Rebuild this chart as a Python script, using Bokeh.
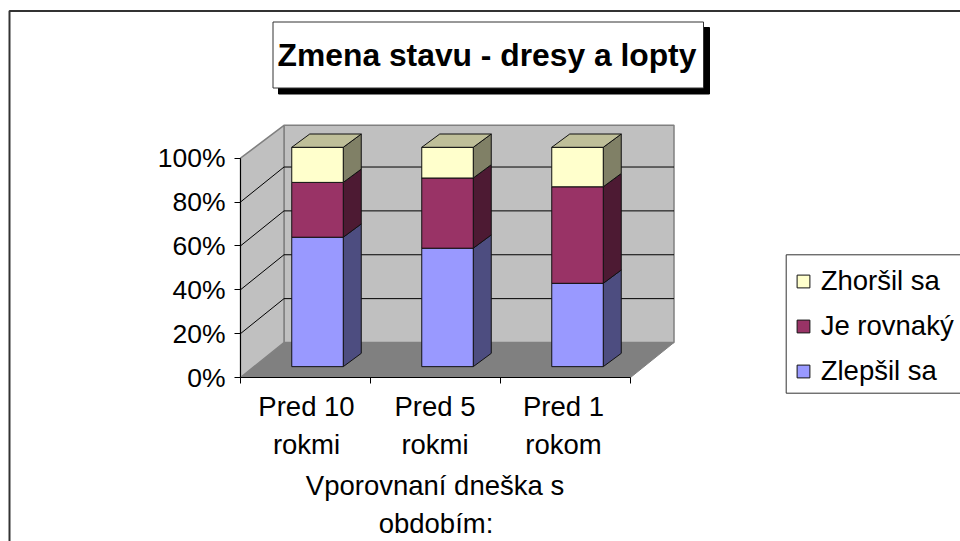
from bokeh.embed import file_html
from bokeh.resources import INLINE
from bokeh.plotting import figure
from bokeh.core.properties import value
from bokeh.models import Range1d, LinearAxis, FixedTicker, PrintfTickFormatter, Legend, LegendItem

TITLE = "Zmena stavu - dresy a lopty"
line1 = ["Pred 10", "Pred 5", "Pred 1"]
line2 = ["rokmi", "rokmi", "rokom"]
axis_title = ["Vporovnaní dneška s", "obdobím:"]
zlepsil = [59, 54, 38]
rovnaky = [25, 32, 44]
zhorsil = [16, 14, 18]
y_ticks = [0, 20, 40, 60, 80, 100]
FONT = "Liberation Sans"

PX_CAT, PX_PCT = 130.0, 2.1935
X0, Y0 = 240.0, 377.0
def fx(px): return (px - X0) / PX_CAT
def fy(py): return (Y0 - py) / PX_PCT
DX, DY = 43.5 / PX_CAT, 35.0 / PX_PCT   # projection of the full chart depth
Z0, Z1 = 0.31, 0.69
BAR_W = 51.5 / PX_CAT
BAR_SHIFT = 12.0 / PX_CAT
BAR_DX = 18.0 / PX_CAT
BAR_DY = (Z1 - Z0) * DY

p = figure(width=960, height=541, x_range=Range1d(fx(0), fx(960)), y_range=Range1d(fy(541), fy(0)),
           output_backend="svg", toolbar_location=None, x_axis_location=None, y_axis_location=None,
           min_border=0, outline_line_color=None)
p.grid.visible = False

# chart frame (left and top only, the rest falls outside the window)
p.line([fx(9), fx(9), fx(960)], [fy(541), fy(10.5), fy(10.5)], line_color="#333333", line_width=2)

# walls and floor
n = 3
p.patch([0, n, n + DX, DX], [0, 0, DY, DY], fill_color="#808080", line_color="#808080", line_width=1)
WALL_TOP = 99
p.patch([DX, n + DX, n + DX, DX], [DY, DY, DY + WALL_TOP, DY + WALL_TOP], fill_color="#C0C0C0", line_color="#808080", line_width=1.5)
p.patch([0, DX, DX, 0], [0, DY, DY + WALL_TOP, 100], fill_color="#C0C0C0", line_color="#808080", line_width=1.5)
for t in y_ticks[1:-1]:
    p.line([0, DX, n + DX], [t, t + DY, t + DY], line_color="black", line_width=1)

# stacked bars
cats = [i + 0.5 for i in range(n)]
xc = [c + BAR_SHIFT for c in cats]
yoff = Z0 * DY
series = [(zlepsil, "#9999FF", "#4D4D80"), (rovnaky, "#993366", "#4D1A33"), (zhorsil, "#FFFFCC", "#808066")]
base = [0.0] * n
fronts = []
for vals, col, dark in series:
    top = [b + v for b, v in zip(base, vals)]
    xs, ys = [], []
    for x, b, t in zip(xc, base, top):
        r = x + BAR_W / 2
        xs.append([r, r + BAR_DX, r + BAR_DX, r])
        ys.append([b + yoff, b + yoff + BAR_DY, t + yoff + BAR_DY, t + yoff])
    p.patches(xs, ys, fill_color=dark, line_color="#111111", line_width=1)
    fronts.append(p.vbar(x=xc, bottom=[b + yoff for b in base], top=[t + yoff for t in top], width=BAR_W,
                         fill_color=col, line_color="#111111", line_width=1))
    base = top
xs, ys = [], []
for x, t in zip(xc, base):
    l, r = x - BAR_W / 2, x + BAR_W / 2
    xs.append([l, r, r + BAR_DX, l + BAR_DX])
    ys.append([t + yoff, t + yoff, t + yoff + BAR_DY, t + yoff + BAR_DY])
p.patches(xs, ys, fill_color="#BFBF99", line_color="#111111", line_width=1)

# axes
ya = LinearAxis(fixed_location=0, ticker=FixedTicker(ticks=y_ticks), formatter=PrintfTickFormatter(format="%d%%"),
                bounds=(0, 100), axis_line_color="black", major_tick_line_color="black", major_tick_in=0, major_tick_out=6,
                minor_tick_line_color=None, major_label_text_font=FONT, major_label_text_font_size="26.5px",
                major_label_text_color="black", major_label_standoff=9)
p.add_layout(ya, "left")
x_ticks = [0, 1, 2, 3]
xa = LinearAxis(fixed_location=0, ticker=FixedTicker(ticks=x_ticks), bounds=(0, 3),
                axis_line_color="black", major_tick_line_color="black", major_tick_in=0, major_tick_out=6,
                minor_tick_line_color=None, major_label_overrides={t: "" for t in x_ticks})
p.add_layout(xa, "below")

# category and axis titles
txt = dict(text_font=value(FONT), text_font_size=value("27.5px"), text_color="black",
           text_align="center", text_baseline="middle")
label_x = [fx(306), fx(434.5), fx(563)]
p.text(x=label_x, y=[fy(406)] * n, text=line1, **txt)
p.text(x=label_x, y=[fy(443.5)] * n, text=line2, **txt)
p.text(x=[fx(434.5), fx(435.5)], y=[fy(485), fy(523)], text=axis_title, **txt)

# title box with shadow
p.quad(left=fx(278), right=fx(709), top=fy(27), bottom=fy(93.5), fill_color="black", line_color="black")
p.quad(left=fx(272.5), right=fx(703), top=fy(21.5), bottom=fy(87.5), fill_color="white", line_color="#333333", line_width=1)
p.text(x=[fx(486.5)], y=[fy(54.5)], text=[TITLE], text_font=value(FONT), text_font_size=value("31.8px"),
       text_font_style="bold", text_color="black", text_align="center", text_baseline="middle")

# legend frame, running off the right edge of the window
p.quad(left=fx(785.7), right=fx(975), top=fy(254.3), bottom=fy(392.7), fill_color="white", line_color="#333333", line_width=1)
legend = Legend(items=[LegendItem(label="Zhoršil sa", renderers=[fronts[2]]),
                       LegendItem(label="Je rovnaký", renderers=[fronts[1]]),
                       LegendItem(label="Zlepšil sa", renderers=[fronts[0]])],
                location=(794.7, 154.5), orientation="vertical", margin=0, padding=11, spacing=13,
                label_height=24, glyph_height=16, glyph_width=16, label_standoff=10,
                label_text_font=FONT, label_text_font_size="27.5px", label_text_color="black",
                label_text_baseline="middle", border_line_color=None,
                background_fill_alpha=0)
p.add_layout(legend)

open("out.html", "w").write(file_html(p, INLINE))
